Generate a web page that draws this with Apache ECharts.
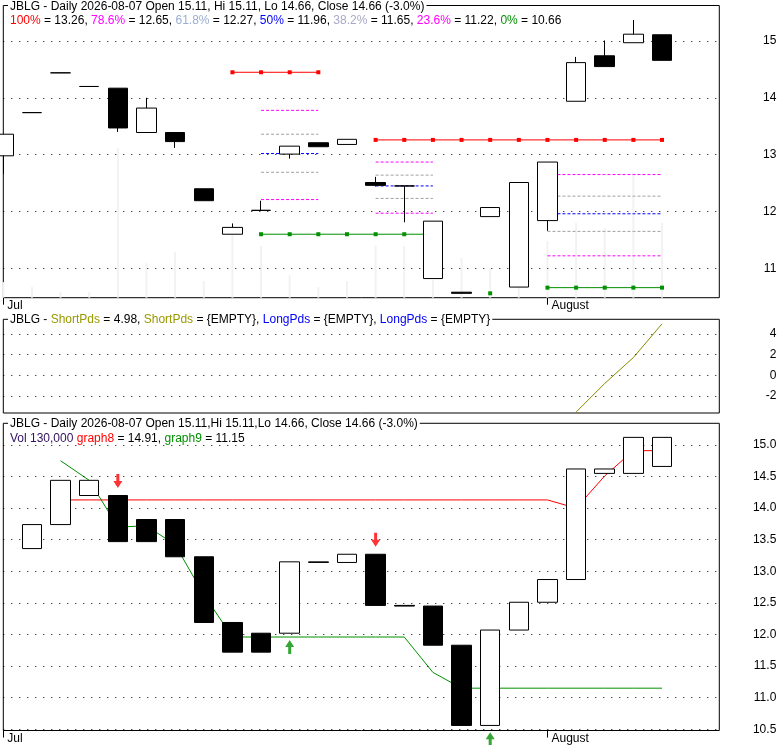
<!DOCTYPE html>
<html>
<head>
<meta charset="utf-8">
<script src="https://cdn.jsdelivr.net/npm/echarts@6/dist/echarts.min.js"></script>
<style>
html, body { margin: 0; padding: 0; background: #fff; }
#chart { width: 780px; height: 745px; }
</style>
</head>
<body>
<div id="chart"></div>
<script>
// trading days shown (two empty slots at the right end)
const days = ['07-07', '07-08', '07-09', '07-10', '07-13', '07-14', '07-15', '07-16', '07-17', '07-20',
    '07-21', '07-22', '07-23', '07-24', '07-27', '07-28', '07-29', '07-30', '07-31', '08-03',
    '08-04', '08-05', '08-06', '08-07', '08-10', '08-11'];
const monthStarts = ['07-07', '08-03'];
const monthNames = ['Jul', 'August'];

const opens = [12.98, 13.74, 14.44, 14.20, 14.17, 13.39, 13.39, 12.40, 11.60, 12.02, 13.01, 13.21, 13.18, 12.51, 12.45, 10.82, 10.58, 11.91, 10.67, 11.84, 13.94, 14.74, 14.97, 15.11];
const highs = [13.36, 13.74, 14.44, 14.20, 14.17, 14.00, 13.39, 12.40, 11.79, 12.19, 13.15, 13.21, 13.27, 12.61, 12.45, 11.83, 10.58, 12.07, 12.51, 12.87, 14.72, 15.01, 15.37, 15.11];
const lows = [12.66, 13.74, 14.44, 14.20, 13.40, 13.39, 13.12, 12.19, 11.60, 12.02, 12.93, 13.14, 13.18, 12.44, 11.81, 10.82, 10.56, 11.91, 10.67, 11.66, 13.94, 14.55, 14.97, 14.66];
const closes = [13.36, 13.74, 14.44, 14.20, 13.47, 13.82, 13.23, 12.19, 11.72, 12.02, 13.15, 13.14, 13.27, 12.46, 12.45, 11.83, 10.56, 12.07, 12.51, 12.87, 14.62, 14.55, 15.12, 14.66];
const volumes = [27000, 18500, 10000, 10000, 260000, 60000, 79000, 29000, 109000, 90000, 39000, 18500, 29000, 90000, 90000, 31000, 69000, 51000, 31000, 98000, 130000, 121000, 218000, 130000];

// fibonacci lines: [level, first day index, last day index, price]
const fibRows = [
    ['100%', 8, 11, 14.45],
    ['0%', 9, 15, 11.60],
    ['78.6%', 9, 11, 13.78], ['61.8%', 9, 11, 13.36], ['50%', 9, 11, 13.02], ['38.2%', 9, 11, 12.69], ['23.6%', 9, 11, 12.21],
    ['100%', 13, 23, 13.26],
    ['78.6%', 13, 15, 12.87], ['61.8%', 13, 15, 12.64], ['50%', 13, 15, 12.45], ['38.2%', 13, 15, 12.23], ['23.6%', 13, 15, 11.97],
    ['0%', 17, 17, 10.56],
    ['0%', 19, 23, 10.66],
    ['78.6%', 19, 23, 12.65], ['61.8%', 19, 23, 12.27], ['50%', 19, 23, 11.96], ['38.2%', 19, 23, 11.65], ['23.6%', 19, 23, 11.22]
];
const fibHeaderLevels = ['100%', '78.6%', '61.8%', '50%', '38.2%', '23.6%', '0%'];
const fibHeaderValues = [13.26, 12.65, 12.27, 11.96, 11.65, 11.22, 10.66];

const shortPds = [null, null, null, null, null, null, null, null, null, null, null, null, null, null, null, null, null, null, null, null, -3.56, -0.79, 1.72, 4.98];

// lower panel: 1 = black box (down trend), 0 = hollow
const trendDown = [null, 0, 0, 0, 1, 1, 1, 1, 1, 1, 0, 0, 0, 1, 1, 1, 1, 0, 0, 0, 0, 0, 0, 0];
const graph8 = [null, null, 14.13, 14.13, 14.13, 14.13, 14.13, 14.13, 14.13, 14.13, 14.13, 14.13, 14.13, 14.13, 14.13, 14.13, 14.13, 14.13, 14.13, 14.13, 14.00, 14.51, 14.91, 14.91];
const graph9 = [null, null, 14.75, 14.44, 13.70, 13.72, 13.42, 12.63, 11.96, 11.96, 11.96, 11.96, 11.96, 11.96, 11.96, 11.40, 11.15, 11.15, 11.15, 11.15, 11.15, 11.15, 11.15, 11.15];
const sellArrows = [[4, 14.43], [13, 13.50]];
const buyArrows = [[10, 11.80], [17, 10.34]];

const priceTicks = [11, 12, 13, 14, 15];
const pdsTicks = [-2, 0, 2, 4];
const lowerTicks = [10.5, 11, 11.5, 12, 12.5, 13, 13.5, 14, 14.5, 15];

const FONT = 'Liberation Sans, Arial, sans-serif';
const fibColors = {
    '100%': '#ff0000', '78.6%': '#ff00ff', '61.8%': '#a0a0a0', '50%': '#0000ff',
    '38.2%': '#a0a0a0', '23.6%': '#ff00ff', '0%': '#009000'
};
const fibHeadColors = {
    '100%': '#ff0000', '78.6%': '#ff00ff', '61.8%': '#9aaed0', '50%': '#0000ff',
    '38.2%': '#a8a8c8', '23.6%': '#ff00ff', '0%': '#009000'
};

let chart = echarts.init(document.getElementById('chart'), null, { renderer: 'canvas' });

function gridDots(ticks, xi, yi) {
    return {
        type: 'line', xAxisIndex: xi, yAxisIndex: yi, z: 1, silent: true,
        data: days.map(() => null),
        markLine: {
            silent: true, symbol: ['none', 'none'], animation: false,
            label: { show: false },
            lineStyle: { color: '#000', type: [1, 7], width: 1 },
            emphasis: { disabled: true },
            data: ticks.map(v => ({ yAxis: v }))
        }
    };
}

function monthTick(i, v) {
    return monthStarts.indexOf(v) >= 0;
}

function dayAxis(gi, withLabels) {
    return {
        type: 'category', gridIndex: gi, data: days, boundaryGap: false,
        axisLine: { show: false },
        axisTick: { show: withLabels, interval: monthTick, length: 7, lineStyle: { color: '#000' } },
        axisLabel: {
            show: withLabels, interval: monthTick, align: 'left', margin: 2,
            padding: [0, 0, 0, 4], color: '#000', fontSize: 12, fontFamily: FONT,
            formatter: v => monthNames[monthStarts.indexOf(v)]
        },
        splitLine: { show: false }
    };
}

function priceAxis(gi, min, max, ticks, fmt) {
    return {
        type: 'value', gridIndex: gi, position: 'right', min: min, max: max, scale: true,
        axisLine: { show: false }, axisTick: { show: false }, splitLine: { show: false },
        axisLabel: {
            customValues: ticks, align: 'right', margin: 57, color: '#000',
            fontSize: 12, fontFamily: FONT, formatter: fmt
        }
    };
}

// fibonacci series
let fibSeries = fibRows.map(r => {
    let solid = r[0] === '100%' || r[0] === '0%';
    return {
        type: 'line', xAxisIndex: 0, yAxisIndex: 0, z: 2, silent: true,
        data: days.map((d, i) => (i >= r[1] && i <= r[2]) ? r[3] : null),
        showSymbol: solid, symbol: 'rect', symbolSize: 4,
        itemStyle: { color: fibColors[r[0]] },
        lineStyle: { color: fibColors[r[0]], width: 1, type: solid ? 'solid' : [3, 2] }
    };
});

// lower panel boxes go from previous close to close
let trendBoxes = closes.map((c, i) => {
    if (i === 0) return '-';
    let o = closes[i - 1];
    let fill = trendDown[i] ? '#000' : '#fff';
    return {
        value: [o, c, Math.min(o, c), Math.max(o, c)],
        itemStyle: { color: fill, color0: fill, borderColor: '#000', borderColor0: '#000' }
    };
});

let last = closes.length - 1;
let chg = ((closes[last] - closes[last - 1]) / closes[last - 1] * 100).toFixed(1);
let fibHeader = fibHeaderLevels.map((l, i) => '{f' + i + '|' + l + '} = ' + fibHeaderValues[i].toFixed(2)).join(', ');
let fibRich = {};
fibHeaderLevels.forEach((l, i) => fibRich['f' + i] = { color: fibHeadColors[l], fontSize: 12, fontFamily: FONT });

const titleStyle = { fontSize: 12, fontWeight: 'normal', color: '#000', fontFamily: FONT, lineHeight: 14 };

chart.setOption({
    animation: false,
    backgroundColor: '#fff',
    textStyle: { fontFamily: FONT },
    title: [
        {
            left: 8, top: 0, padding: [0, 2], backgroundColor: '#fff',
            text: 'JBLG - Daily 2026-08-07 Open ' + opens[last].toFixed(2) + ', Hi ' + highs[last].toFixed(2) +
                ', Lo ' + lows[last].toFixed(2) + ', Close ' + closes[last].toFixed(2) + ' (' + chg + '%)',
            textStyle: titleStyle
        },
        {
            left: 8, top: 14, padding: [0, 2], text: fibHeader,
            textStyle: Object.assign({ rich: fibRich }, titleStyle)
        },
        {
            left: 8, top: 313, padding: [0, 2], backgroundColor: '#fff',
            text: 'JBLG - {o|ShortPds} = ' + shortPds[last].toFixed(2) + ', {o|ShortPds} = {EMPTY}, {b|LongPds} = {EMPTY}, {b|LongPds} = {EMPTY}',
            textStyle: Object.assign({
                rich: {
                    o: { color: '#999900', fontSize: 12, fontFamily: FONT },
                    b: { color: '#0000ff', fontSize: 12, fontFamily: FONT }
                }
            }, titleStyle)
        },
        {
            left: 8, top: 417, padding: [0, 2], backgroundColor: '#fff',
            text: 'JBLG - Daily 2026-08-07 Open ' + opens[last].toFixed(2) + ',Hi ' + highs[last].toFixed(2) +
                ',Lo ' + lows[last].toFixed(2) + ', Close ' + closes[last].toFixed(2) + ' (' + chg + '%)',
            textStyle: titleStyle
        },
        {
            left: 8, top: 432, padding: [0, 2],
            text: '{v|Vol ' + volumes[last].toLocaleString('en-US') + '} {r|graph8} = ' + graph8[last].toFixed(2) +
                ', {g|graph9} = ' + graph9[last].toFixed(2),
            textStyle: Object.assign({
                rich: {
                    v: { color: '#301060', fontSize: 12, fontFamily: FONT },
                    r: { color: '#ff0000', fontSize: 12, fontFamily: FONT },
                    g: { color: '#009000', fontSize: 12, fontFamily: FONT }
                }
            }, titleStyle)
        }
    ],
    grid: [
        { left: 3.3, top: 5.5, width: 716, height: 292.2, show: true, borderColor: '#000', borderWidth: 1, backgroundColor: 'transparent' },
        { left: 3.3, top: 319.3, width: 716, height: 93.7, show: true, borderColor: '#000', borderWidth: 1, backgroundColor: 'transparent' },
        { left: 3.3, top: 423.3, width: 716, height: 307.2, show: true, borderColor: '#000', borderWidth: 1, backgroundColor: 'transparent' }
    ],
    xAxis: [dayAxis(0, true), dayAxis(1, false), dayAxis(2, true)],
    yAxis: [
        priceAxis(0, 10.483, 15.625, priceTicks, v => String(v)),
        { type: 'value', gridIndex: 0, min: 0, max: 508000, show: false },
        priceAxis(1, -3.65, 5.42, pdsTicks, v => String(v)),
        priceAxis(2, 10.48, 15.343, lowerTicks, v => v.toFixed(1))
    ],
    series: [
        {
            type: 'bar', xAxisIndex: 0, yAxisIndex: 1, z: 1, silent: true,
            data: volumes, barWidth: 2, itemStyle: { color: '#f2f2f2' }
        },
        gridDots(priceTicks, 0, 0),
        ...fibSeries,
        {
            type: 'candlestick', xAxisIndex: 0, yAxisIndex: 0, z: 5, clip: false, barWidth: 20,
            data: opens.map((o, i) => [o, closes[i], lows[i], highs[i]]),
            itemStyle: { color: '#fff', color0: '#000', borderColor: '#000', borderColor0: '#000', borderWidth: 1 }
        },
        gridDots(pdsTicks, 1, 2),
        {
            type: 'line', xAxisIndex: 1, yAxisIndex: 2, z: 2, silent: true, showSymbol: false,
            data: shortPds, lineStyle: { color: '#8a8a00', width: 1 }
        },
        gridDots(lowerTicks, 2, 3),
        {
            type: 'line', xAxisIndex: 2, yAxisIndex: 3, z: 2, silent: true, showSymbol: false,
            data: graph8, lineStyle: { color: '#ff0000', width: 1 }
        },
        {
            type: 'line', xAxisIndex: 2, yAxisIndex: 3, z: 2, silent: true, showSymbol: false,
            data: graph9, lineStyle: { color: '#009000', width: 1 }
        },
        {
            type: 'candlestick', xAxisIndex: 2, yAxisIndex: 3, z: 5, barWidth: 20,
            data: trendBoxes, itemStyle: { borderWidth: 1 }
        },
        {
            type: 'scatter', xAxisIndex: 2, yAxisIndex: 3, z: 6, clip: false, silent: true,
            data: sellArrows, symbol: 'path://M3,0L6,0L6,7L9,7L4.5,14L0,7L3,7Z', symbolSize: [9, 14],
            itemStyle: { color: '#ff0000' }
        },
        {
            type: 'scatter', xAxisIndex: 2, yAxisIndex: 3, z: 6, clip: false, silent: true,
            data: buyArrows, symbol: 'path://M4.5,0L9,7L6,7L6,14L3,14L3,7L0,7Z', symbolSize: [9, 14],
            itemStyle: { color: '#009000' }
        }
    ]
});
</script>
</body>
</html>
